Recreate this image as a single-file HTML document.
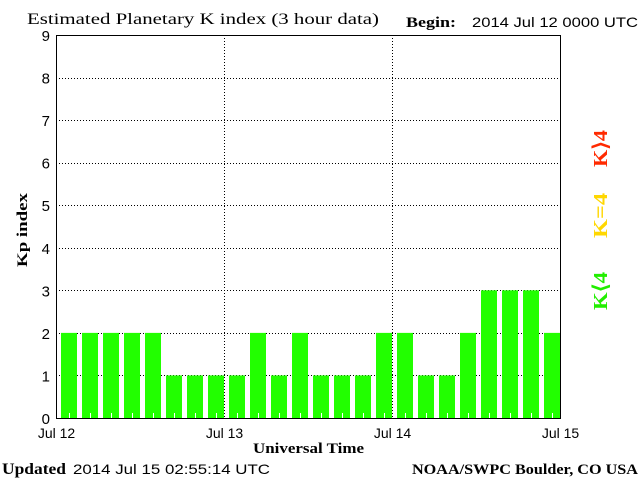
<!DOCTYPE html>
<html><head><meta charset="utf-8"><style>
html,body{margin:0;padding:0;background:#fff;}
svg text{font-family:"Liberation Sans",sans-serif;}
</style></head><body>
<svg id="chart" width="640" height="480" xmlns="http://www.w3.org/2000/svg">
<text x="27" y="24" font-size="16" textLength="352" lengthAdjust="spacingAndGlyphs" style="font-family:'Liberation Serif',serif">Estimated Planetary K index (3 hour data)</text>
<text x="406" y="27" font-size="15" textLength="50" lengthAdjust="spacingAndGlyphs" style="font-family:'Liberation Serif',serif;font-weight:bold">Begin:</text>
<text x="472" y="27" font-size="14" textLength="166" lengthAdjust="spacingAndGlyphs">2014 Jul 12 0000 UTC</text>
<g id="grid"></g>
<g id="bars"></g>
<rect x="56.5" y="35.5" width="504" height="383" fill="none" stroke="#000" stroke-width="1"/>
<g id="yticks"></g>
<g id="xticks"></g>
<text transform="translate(27,230) rotate(-90)" text-anchor="middle" font-size="15" textLength="74" lengthAdjust="spacingAndGlyphs" style="font-family:'Liberation Serif',serif;font-weight:bold">Kp index</text>
<text x="253" y="453" font-size="15" textLength="111" lengthAdjust="spacingAndGlyphs" style="font-family:'Liberation Serif',serif;font-weight:bold">Universal Time</text>
<text transform="translate(607,167) rotate(-90)" font-size="20" textLength="37" lengthAdjust="spacingAndGlyphs" fill="#ff2a00" style="font-family:'Liberation Serif',serif;font-weight:bold">K⟩4</text>
<text transform="translate(607,238) rotate(-90)" font-size="20" textLength="45" lengthAdjust="spacingAndGlyphs" fill="#ffd700" style="font-family:'Liberation Serif',serif;font-weight:bold">K=4</text>
<text transform="translate(607,310) rotate(-90)" font-size="20" textLength="38" lengthAdjust="spacingAndGlyphs" fill="#22ee00" style="font-family:'Liberation Serif',serif;font-weight:bold">K⟨4</text>
<text x="2" y="474" font-size="16" textLength="64" lengthAdjust="spacingAndGlyphs" style="font-family:'Liberation Serif',serif;font-weight:bold">Updated</text>
<text x="73" y="474" font-size="14" textLength="197" lengthAdjust="spacingAndGlyphs">2014 Jul 15 02:55:14 UTC</text>
<text x="412" y="474" font-size="15" textLength="226" lengthAdjust="spacingAndGlyphs" style="font-family:'Liberation Serif',serif;font-weight:bold">NOAA/SWPC Boulder, CO USA</text>
</svg>
<script>
const kpValues = [2,2,2,2,2,1,1,1,1,2,1,2,1,1,1,2,2,1,1,2,3,3,3,2];
const yTicks = [0,1,2,3,4,5,6,7,8,9];
const dayLabels = ["Jul 12","Jul 13","Jul 14","Jul 15"];
const dayIndex = [0,1,2,3];

const NS="http://www.w3.org/2000/svg";
const X0=56,X1=560,Y0=418,Y1=35,NSLOT=24;
const xScale=s=>X0+(X1-X0)*s/NSLOT;
const yScale=v=>Y0-(Y0-Y1)*v/9;
function mk(tag,attrs,parent){const e=document.createElementNS(NS,tag);for(const k in attrs)e.setAttribute(k,attrs[k]);parent.appendChild(e);return e;}
const grid=document.getElementById('grid'),bars=document.getElementById('bars'),yt=document.getElementById('yticks'),xt=document.getElementById('xticks');
yTicks.forEach(v=>{
  const y=Math.round(yScale(v))+0.5;
  if(v>0&&v<9){const l=mk('line',{x1:X0,x2:X1,y1:y,y2:y,stroke:'#000','stroke-dasharray':'1,2'},grid);
  
  }
  const t=mk('text',{x:50,y:yScale(v)+6,'text-anchor':'end','font-size':15},yt);
  t.textContent=v;
  
  
});
dayIndex.forEach((d,i)=>{
  const x=Math.round(xScale(d*8))+0.5;
  if(d>0&&d<3){const l=mk('line',{x1:x,x2:x,y1:Y1,y2:Y0,stroke:'#000','stroke-dasharray':'1,2'},grid);
  
  }
  const t=mk('text',{x:x,y:438,'text-anchor':'middle','font-size':14},xt);
  t.textContent=dayLabels[i];
  
  
});
kpValues.forEach((v,i)=>{
  const x=xScale(i)+5;
  const r=mk('rect',{x:x,y:yScale(v),width:16,height:Y0-yScale(v),fill:'#22ff00'},bars);
  
  
  const tk=mk('line',{x1:x+8.5,x2:x+8.5,y1:Y0-5,y2:Y0,stroke:'#fff'},bars);
  
  
});
</script>
</body></html>
